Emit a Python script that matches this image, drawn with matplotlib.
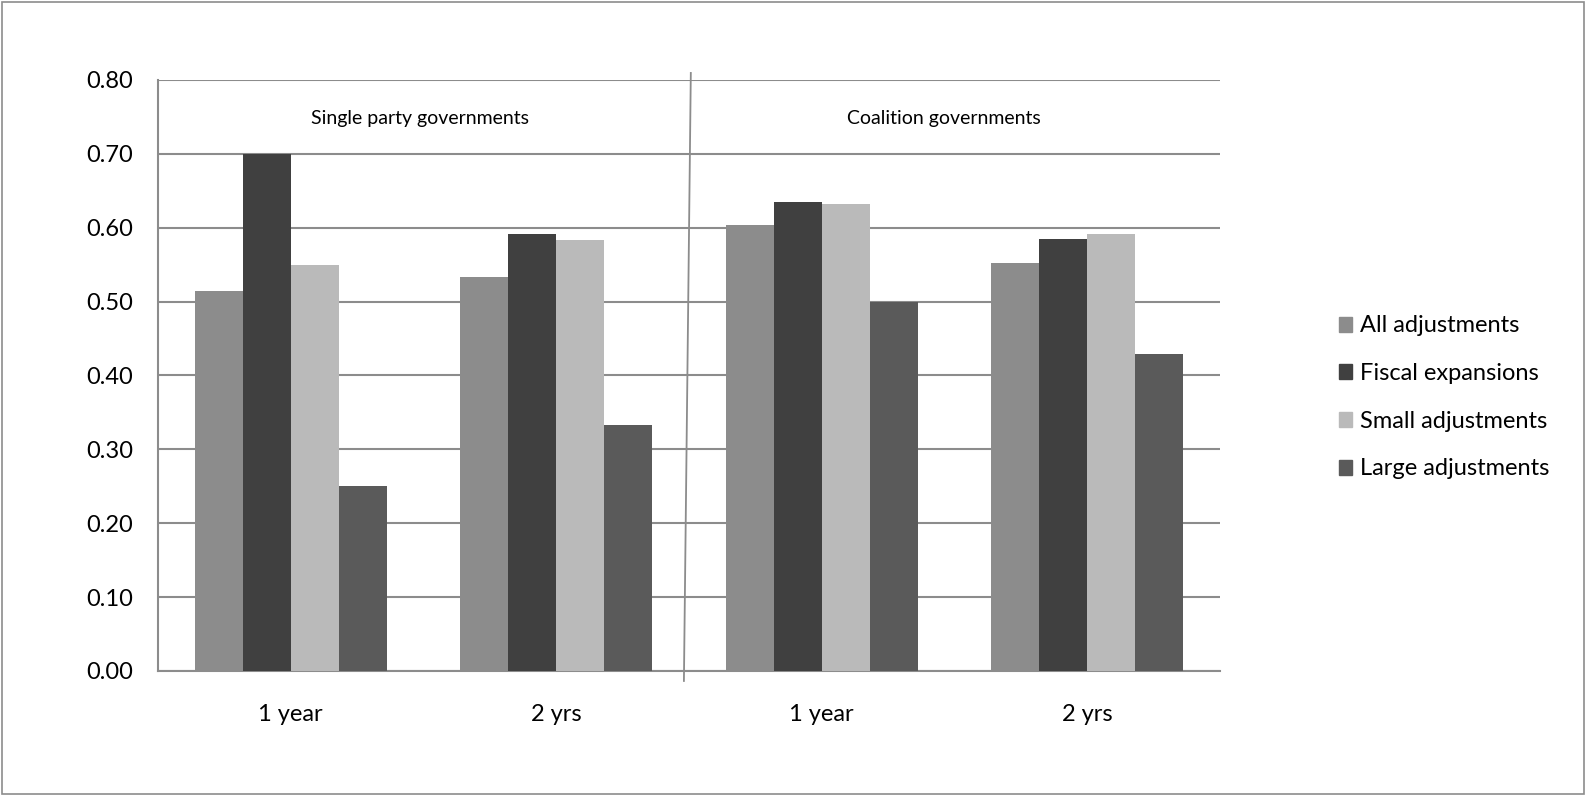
import matplotlib.pyplot as plt
import matplotlib.patches as mpatches
import numpy as np

plt.rcParams['font.family'] = ['Lato', 'DejaVu Sans']

# data
categories = ["1 year", "2 yrs", "1 year", "2 yrs"]
series_names = ["All adjustments", "Fiscal expansions", "Small adjustments", "Large adjustments"]
all_adj = [0.515, 0.533, 0.604, 0.552]
fiscal_exp = [0.700, 0.591, 0.635, 0.585]
small_adj = [0.549, 0.583, 0.632, 0.591]
large_adj = [0.250, 0.333, 0.500, 0.429]
panels = ["Single party governments", "Coalition governments"]

colors = ["#8c8c8c", "#404040", "#bababa", "#5a5a5a"]
grid_col = "#8c8c8c"

fig = plt.figure(figsize=(15.86, 7.95), dpi=100)
ax = fig.add_axes([0.0996, 0.156, 0.6696, 0.7434])

x = np.arange(len(categories))
w = 0.181
for i, vals in enumerate([all_adj, fiscal_exp, small_adj, large_adj]):
    ax.bar(x + (i - 1.5) * w, vals, w, color=colors[i], label=series_names[i], zorder=3)

ax.set_xlim(-0.5, 3.5)
ax.set_ylim(0, 0.80)
ax.set_yticks(np.arange(0, 0.81, 0.1))
ax.set_yticklabels([f"{v:.2f}" for v in np.arange(0, 0.81, 0.1)])
ax.set_xticks(x)
ax.set_xticklabels(categories)
ax.tick_params(axis='both', length=0, labelsize=17)
ax.tick_params(axis='x', pad=24)
ax.tick_params(axis='y', pad=18)
ax.yaxis.grid(True, color=grid_col, linewidth=1.5, zorder=0)
ax.set_axisbelow(True)
for s in ["top", "right"]:
    ax.spines[s].set_visible(False)
for s in ["left", "bottom"]:
    ax.spines[s].set_color(grid_col)
    ax.spines[s].set_linewidth(1.5)

# panel divider and labels
ax.plot([1.507, 1.481], [0.8095, -0.0135], color=grid_col, linewidth=1.3, clip_on=False, zorder=4)
ax.text(0.487, 0.748, panels[0], ha='center', va='center', fontsize=14)
ax.text(2.46, 0.748, panels[1], ha='center', va='center', fontsize=14)

handles = [mpatches.Patch(color=c, label=n) for c, n in zip(colors, series_names)]
fig.legend(handles=handles, loc='upper left', bbox_to_anchor=(0.831, 0.630), frameon=False,
           fontsize=17, handlelength=0.55, handleheight=0.6, handletextpad=0.35, labelspacing=1.13)

# figure border
fig.patches.append(mpatches.Rectangle((0.001, 0.001), 0.998, 0.997, transform=fig.transFigure,
                                      fill=False, edgecolor=grid_col, linewidth=1.2))

plt.savefig("out.png", dpi=100)
